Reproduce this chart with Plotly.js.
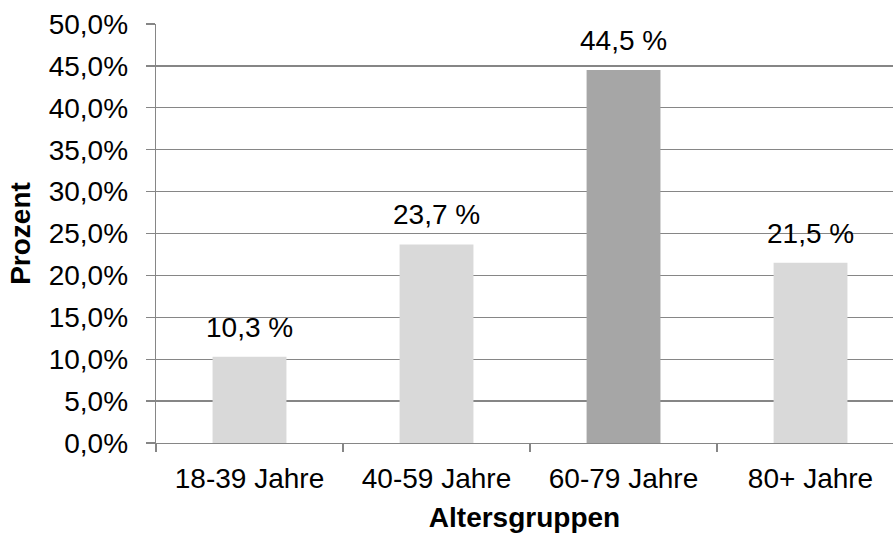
<!DOCTYPE html>
<html><head><meta charset="utf-8">
<script src="https://cdn.plot.ly/plotly-3.0.1.min.js"></script>
<style>html,body{margin:0;padding:0;background:#fff}</style>
</head><body><div id="chart" style="width:893px;height:536px"></div>
<script>
const categories = ["18-39 Jahre", "40-59 Jahre", "60-79 Jahre", "80+ Jahre"];
const values = [10.3, 23.7, 44.5, 21.5];
const barColors = ["#d9d9d9", "#d9d9d9", "#a6a6a6", "#d9d9d9"];
const yTickValues = [0, 5, 10, 15, 20, 25, 30, 35, 40, 45, 50];
const yTickLabels = ["0,0%", "5,0%", "10,0%", "15,0%", "20,0%", "25,0%", "30,0%", "35,0%", "40,0%", "45,0%", "50,0%"];
const valueLabels = ["10,3 %", "23,7 %", "44,5 %", "21,5 %"];
const xTitle = "Altersgruppen";
const yTitle = "Prozent";

const FONT = "Liberation Sans, Arial, sans-serif";
const GRID = "#868686";

const trace = {
  type: "bar",
  x: categories,
  y: values,
  width: 0.395,
  marker: {color: barColors, line: {width: 0}},
  hoverinfo: "skip"
};

const annotations = categories.map((c, i) => ({
  x: c, y: values[i], xref: "x", yref: "y",
  text: valueLabels[i],
  showarrow: false, yanchor: "bottom", yshift: 12,
  font: {family: FONT, size: 28, color: "#000"}
}));

const layout = {
  width: 893, height: 536,
  margin: {l: 156, r: 0, t: 24, b: 93},
  paper_bgcolor: "#fff", plot_bgcolor: "#fff",
  showlegend: false,
  font: {family: FONT, size: 28, color: "#000"},
  xaxis: {
    type: "category",
    range: [-0.5, 3.441],
    tickson: "boundaries",
    ticks: "outside", ticklen: 8, tickwidth: 1.3, tickcolor: GRID,
    showline: true, linecolor: GRID, linewidth: 1.3,
    showgrid: false, zeroline: false,
    tickfont: {family: FONT, size: 28, color: "#000"},
    ticklabelstandoff: 10,
    title: {text: xTitle, font: {family: FONT, size: 28, color: "#000", weight: "bold"}, standoff: 14},
    automargin: false,
    fixedrange: true
  },
  yaxis: {
    range: [0, 50],
    tickmode: "array", tickvals: yTickValues, ticktext: yTickLabels,
    ticks: "outside", ticklen: 9, tickwidth: 1.3, tickcolor: GRID,
    showline: true, linecolor: GRID, linewidth: 1.3,
    showgrid: true, gridcolor: GRID, gridwidth: 1.3,
    zeroline: false,
    tickfont: {family: FONT, size: 28, color: "#000"},
    ticklabelstandoff: 12,
    title: {text: yTitle, font: {family: FONT, size: 28, color: "#000", weight: "bold"}, standoff: 10},
    automargin: false,
    fixedrange: true
  },
  annotations: annotations
};

Plotly.newPlot("chart", [trace], layout, {displayModeBar: false, staticPlot: true});
</script>
</body></html>
